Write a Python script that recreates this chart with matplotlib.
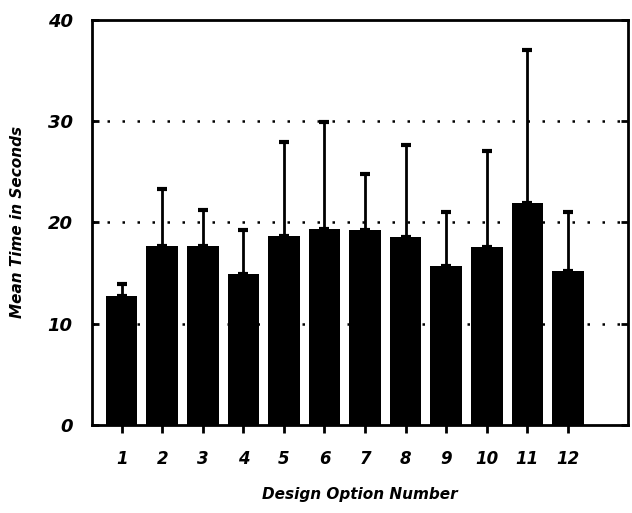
import matplotlib
matplotlib.use('Agg')
from matplotlib import pyplot as plt
import numpy as np

options = ['1', '2', '3', '4', '5', '6', '7', '8', '9', '10', '11', '12']
mean_time = [12.7, 17.7, 17.7, 14.9, 18.7, 19.3, 19.2, 18.6, 15.7, 17.6, 21.9, 15.2]
upper_err = [13.9, 23.3, 21.2, 19.2, 27.9, 29.9, 24.8, 27.6, 21.0, 27.0, 37.0, 21.0]

x = np.arange(1, len(options) + 1)
err = np.array(upper_err) - np.array(mean_time)

font = dict(family='DejaVu Sans', weight='bold', style='italic')

fig = plt.figure(figsize=(6.32, 5.13), dpi=100)
ax = fig.add_axes([0.1456, 0.1715, 0.848, 0.79])

ax.bar(x, mean_time, width=0.78, color='black', zorder=2)
ax.errorbar(x, mean_time, yerr=[np.zeros(len(x)), err], fmt='none',
            ecolor='black', elinewidth=2, capsize=3.5, capthick=3, zorder=3)

for y in [10, 20, 30]:
    ax.axhline(y, color='black', linestyle=(0, (1, 5)), linewidth=1.8, zorder=1)

ax.set_xlim(0.27, 13.48)
ax.set_ylim(0, 40)
ax.set_xticks(x)
ax.set_xticklabels(options, fontsize=12, **font)
ax.set_yticks([0, 10, 20, 30, 40])
ax.set_yticklabels(['0', '10', '20', '30', '40'], fontsize=13, **font)
ax.tick_params(axis='x', direction='out', length=6, width=2, pad=12)
ax.tick_params(axis='y', direction='in', length=5, width=2, right=True, pad=14)

for s in ax.spines.values():
    s.set_linewidth(2)

ax.set_xlabel('Design Option Number', fontsize=11, labelpad=14, **font)
ax.set_ylabel('Mean Time in Seconds', fontsize=11, labelpad=16, **font)

plt.savefig('out.png', dpi=100)
